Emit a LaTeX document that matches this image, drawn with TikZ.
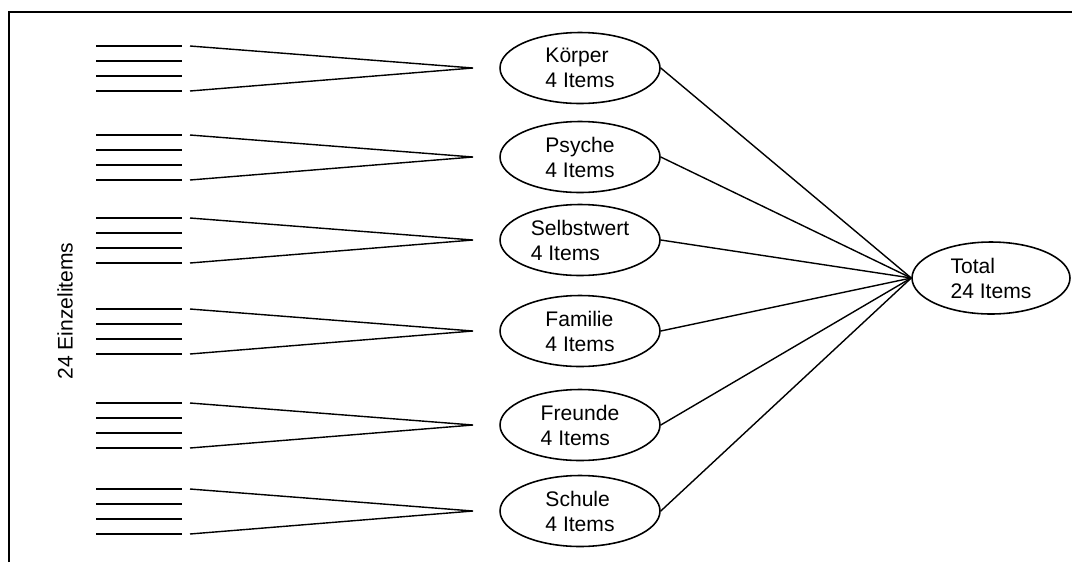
\documentclass[tikz,border=0pt]{standalone}
\usepackage{fontspec}
\setmainfont{Liberation Sans}
\usetikzlibrary{shapes.geometric, positioning}

\begin{document}
\begin{tikzpicture}[
      x=0.02cm, y=-0.02cm,
      font=\fontsize{12}{14.2}\selectfont,
      factor/.style={ellipse, draw, line width=0.9pt, minimum width=3.2cm, minimum height=1.42cm, align=left, inner sep=0pt},
      itemline/.style={line width=1.1pt},
      link/.style={line width=0.8pt}
  ]
  \useasboundingbox (0,0) rectangle (1072,562);

  % Frame
  \draw[line width=1.1pt] (9,562) -- (9,12) -- (1072,12);

  % Nodes
  \node[factor] (koerper) at (580,68) {Körper\\4 Items};
  \node[factor] (psyche) at (580,157) {Psyche\\4 Items};
  \node[factor] (selbstwert) at (580,240) {Selbstwert\\4 Items};
  \node[factor] (familie) at (580,331) {Familie\\4 Items};
  \node[factor] (freunde) at (580,425) {Freunde\\4 Items};
  \node[factor] (schule) at (580,511) {Schule\\4 Items};
  \node[factor, minimum width=3.16cm, minimum height=1.44cm] (total) at (991,278) {Total\\24 Items};

  \node[rotate=90] (einzel) at (65,311) {24 Einzelitems};

  % Items and connectors
  \foreach \name/\y in {koerper/68, psyche/157, selbstwert/240, familie/331, freunde/425, schule/511} {
    \foreach \d in {-22,-7,8,23}
      \draw[itemline] (96,\y+\d) -- (182,\y+\d);
    \coordinate (\name-tip) at (473,\y);
    \coordinate (\name-a) at (190,\y-22);
    \coordinate (\name-b) at (190,\y+23);
    \draw[link] (\name-a) -- (\name-tip) -- (\name-b);
    \draw[link] (\name.east) -- (total.west);
  }

\end{tikzpicture}
\end{document}
